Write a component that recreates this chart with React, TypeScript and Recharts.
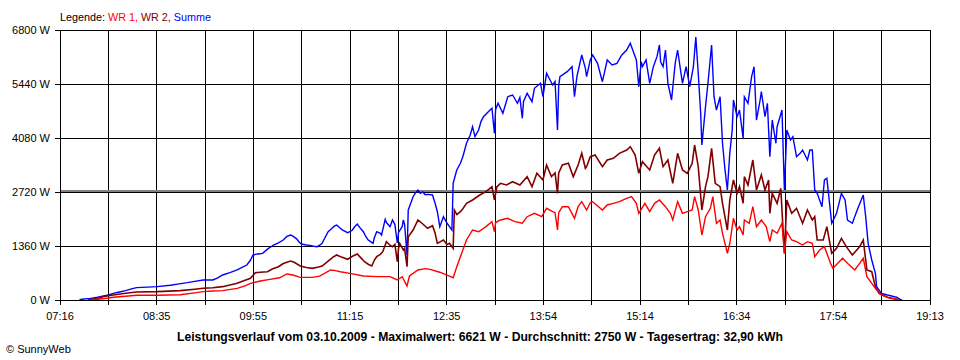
import React from "react";
import {
  LineChart,
  Line,
  XAxis,
  YAxis,
  CartesianGrid,
  ReferenceLine,
} from "recharts";

// Time in minutes since midnight, power in W
const sumPoints: [number, number][] = [
  [452, 0], [454, 18], [461, 40], [467, 68], [472, 100], [476, 126], [480, 168], [485, 200],
  [490, 235], [495, 280], [499, 311], [508, 325], [516, 336], [527, 370], [533, 400], [541, 437],
  [547, 470], [554, 504], [562, 504], [566, 560], [570, 630], [576, 690], [582, 756], [586, 820],
  [590, 881], [593, 1007], [595, 1133], [599, 1160], [603, 1175], [607, 1280], [612, 1385], [616, 1440],
  [620, 1511], [623, 1600], [626, 1637], [628, 1610], [631, 1540], [633, 1460], [635, 1410], [639, 1385],
  [642, 1377], [645, 1355], [648, 1343], [650, 1380], [652, 1427], [654, 1550], [657, 1720], [660, 1800],
  [662, 1860], [664, 1889], [667, 1805], [669, 1760], [673, 1695], [675, 1720], [677, 1763], [679, 1850],
  [681, 1914], [683, 1830], [686, 1720], [688, 1600], [690, 1511], [692, 1470], [694, 1427], [695, 1560],
  [697, 1720], [700, 1680], [701, 1637], [704, 2032], [705, 1950], [708, 1847], [710, 2015], [712, 1900],
  [714, 1435], [715, 1700], [718, 1847], [719, 2015], [720, 1900], [722, 1133], [723, 2267], [724, 2350],
  [727, 2602], [729, 2700], [731, 2770], [733, 2687], [735, 2720], [737, 2650], [739, 2660], [743, 2645],
  [745, 2450], [747, 2224], [749, 1847], [752, 2098], [755, 1932], [757, 1850], [759, 1763], [760, 2939],
  [763, 3274], [766, 3443], [768, 3609], [771, 3946], [774, 4150], [776, 4365], [778, 4113], [781, 4281],
  [783, 4500], [785, 4617], [789, 4743], [792, 4828], [794, 4198], [795, 4800], [797, 4954], [801, 4702],
  [805, 5120], [809, 5163], [813, 4954], [815, 5100], [817, 4576], [818, 5000], [821, 5206], [825, 4995],
  [827, 5332], [832, 5458], [834, 5120], [837, 5710], [842, 5415], [844, 5500], [846, 4281], [847, 5400],
  [848, 5624], [854, 5750], [858, 5876], [860, 5120], [862, 5624], [866, 6170], [869, 5835], [870, 5624],
  [873, 6044], [875, 6170], [879, 5961], [883, 5498], [887, 6044], [891, 5918], [895, 5961], [899, 6170],
  [903, 6296], [906, 6465], [908, 6296], [911, 6044], [913, 5372], [915, 6000], [916, 5876], [919, 6044],
  [922, 5458], [925, 5876], [928, 6128], [930, 6422], [931, 6000], [933, 5876], [935, 6296], [937, 5458],
  [940, 5037], [943, 5961], [945, 6296], [949, 5458], [952, 5876], [955, 5372], [958, 5876], [960, 6621],
  [962, 5710], [964, 4702], [965, 3904], [968, 4869], [970, 5458], [973, 6422], [975, 5120], [977, 4785],
  [980, 5120], [982, 3946], [984, 3300], [986, 2770], [988, 3694], [990, 4281], [991, 5037], [994, 4617],
  [996, 4785], [999, 4072], [1000, 5120], [1003, 4954], [1006, 5624], [1008, 5876], [1010, 4533], [1013, 5037],
  [1014, 5246], [1017, 4617], [1019, 4954], [1021, 3609], [1023, 4533], [1026, 3946], [1027, 4365], [1031, 4785],
  [1033, 2770], [1035, 4281], [1038, 4030], [1040, 4113], [1043, 3609], [1046, 3694], [1048, 3778], [1052, 3526],
  [1054, 3778], [1056, 3778], [1058, 2770], [1060, 2687], [1064, 2350], [1066, 3022], [1068, 3065], [1072, 1932],
  [1076, 2183], [1080, 2687], [1083, 2519], [1085, 2015], [1089, 1932], [1093, 2267], [1098, 2645], [1100, 2098],
  [1102, 1427], [1105, 1007], [1108, 672], [1109, 336], [1113, 168], [1118, 126], [1126, 68], [1128, 18],
  [1130, 0],
];

const wr2Points: [number, number][] = [
  [459, 0], [467, 40], [472, 90], [476, 110], [480, 126], [490, 170], [499, 201], [516, 210],
  [535, 235], [547, 270], [554, 294], [562, 310], [570, 336], [576, 380], [582, 420], [588, 490],
  [593, 546], [597, 688], [601, 700], [607, 713], [611, 780], [616, 839], [620, 920], [626, 982],
  [629, 950], [634, 856], [639, 820], [644, 798], [649, 830], [652, 856], [657, 980], [661, 1080],
  [664, 1133], [668, 1080], [673, 1025], [677, 1100], [681, 1159], [684, 1060], [687, 965], [690, 900],
  [693, 856], [695, 1000], [697, 1091], [700, 1150], [702, 1217], [705, 1469], [708, 1380], [710, 1343],
  [712, 1400], [714, 965], [715, 1300], [716, 1427], [719, 1259], [720, 1300], [722, 839], [723, 1595],
  [727, 1763], [731, 2015], [735, 1914], [739, 1805], [743, 1870], [745, 1700], [747, 1427], [752, 1511],
  [755, 1400], [757, 1427], [760, 1302], [761, 2267], [763, 2150], [766, 2224], [768, 2300], [771, 2435],
  [776, 2519], [782, 2645], [787, 2728], [792, 2854], [794, 2519], [796, 2850], [799, 2939], [804, 2896],
  [809, 2980], [815, 2896], [821, 3106], [825, 2854], [829, 3191], [834, 3022], [837, 3400], [841, 3106],
  [844, 3200], [846, 2687], [847, 3200], [850, 3400], [855, 3443], [859, 3106], [863, 3400], [866, 3694],
  [869, 3317], [870, 3358], [873, 3609], [877, 3652], [883, 3358], [887, 3526], [892, 3568], [897, 3694],
  [903, 3778], [906, 3861], [910, 3652], [913, 3191], [916, 3483], [922, 3274], [926, 3652], [930, 3820],
  [933, 3358], [937, 3526], [941, 2939], [945, 3694], [949, 3274], [953, 3191], [957, 3443], [959, 3904],
  [962, 3358], [965, 2267], [968, 2854], [970, 3106], [973, 3820], [976, 2939], [980, 2854], [982, 2435],
  [986, 1763], [988, 2519], [991, 3022], [994, 2687], [996, 2854], [999, 2435], [1000, 3106], [1003, 2896],
  [1007, 3526], [1010, 2770], [1014, 3148], [1017, 2770], [1020, 3022], [1021, 2183], [1023, 2687], [1027, 2435],
  [1030, 2812], [1033, 1175], [1035, 2519], [1039, 2183], [1043, 2309], [1048, 1932], [1052, 2267], [1056, 2015],
  [1058, 2098], [1060, 1511], [1065, 1511], [1068, 1847], [1072, 1175], [1076, 1302], [1080, 1553], [1084, 1343],
  [1089, 1133], [1095, 1343], [1098, 1511], [1101, 756], [1105, 713], [1108, 336], [1111, 168], [1118, 68],
  [1126, 18], [1127, 0],
];

const wr1Points: [number, number][] = [
  [462, 0], [469, 25], [476, 50], [480, 68], [490, 95], [499, 118], [516, 118], [535, 134],
  [547, 180], [554, 210], [562, 225], [570, 235], [582, 294], [589, 360], [593, 420], [601, 478],
  [609, 520], [617, 560], [623, 655], [628, 630], [634, 571], [644, 571], [650, 600], [659, 756],
  [663, 740], [667, 713], [675, 672], [686, 605], [697, 588], [708, 588], [714, 504], [718, 588],
  [722, 353], [724, 605], [731, 756], [737, 790], [741, 772], [749, 700], [757, 600], [760, 560],
  [763, 839], [766, 1091], [771, 1511], [776, 1763], [781, 1720], [787, 1847], [792, 1972], [794, 1720],
  [795, 1950], [799, 2015], [805, 2057], [811, 1972], [817, 1932], [821, 2098], [827, 2183], [833, 2098],
  [837, 2309], [842, 2224], [844, 2200], [846, 1763], [847, 2200], [850, 2350], [855, 2350], [860, 2057],
  [863, 2350], [866, 2476], [870, 2267], [873, 2451], [875, 2476], [883, 2267], [887, 2393], [892, 2435],
  [897, 2476], [903, 2561], [907, 2602], [911, 2435], [913, 2183], [918, 2435], [922, 2224], [926, 2435],
  [930, 2519], [935, 2350], [939, 2183], [941, 2015], [945, 2476], [949, 2183], [953, 2224], [957, 2267],
  [959, 2602], [962, 2267], [965, 1637], [968, 2098], [972, 2309], [974, 2602], [977, 1932], [980, 2015],
  [982, 1679], [986, 1175], [988, 1427], [991, 2057], [994, 1763], [996, 1847], [999, 1637], [1000, 2015],
  [1004, 1932], [1007, 2350], [1010, 1847], [1014, 2015], [1018, 1847], [1021, 1469], [1023, 1763], [1027, 1679],
  [1031, 1932], [1033, 1175], [1035, 1720], [1039, 1511], [1043, 1469], [1048, 1385], [1052, 1469], [1056, 1427],
  [1058, 1091], [1062, 1259], [1066, 1343], [1071, 924], [1073, 798], [1077, 924], [1081, 1050], [1085, 924],
  [1091, 756], [1095, 924], [1098, 1050], [1101, 588], [1105, 420], [1109, 252], [1113, 126], [1120, 42],
  [1126, 18], [1127, 0],
];

const xTickLabels = ["07:16", "08:35", "09:55", "11:15", "12:35", "13:54", "15:14", "16:34", "17:54", "19:13"];
const yTicks = [0, 1360, 2720, 4080, 5440, 6800];
const averageW = 2750;

const X_START = 436; // 07:16
const X_END = 1153; // 19:13

const toData = (pts: [number, number][]) => pts.map(([t, v]) => ({ t, v }));
const sumData = toData(sumPoints);
const wr2Data = toData(wr2Points);
const wr1Data = toData(wr1Points);

// 18 grid intervals, labels on every second line
const xGridTicks = Array.from({ length: 19 }, (_, i) => X_START + (i * (X_END - X_START)) / 18);

const FONT = "'Liberation Sans', Arial, sans-serif";

export default function App() {
  return (
    <div style={{ position: "absolute", left: 0, top: 0, width: 960, height: 360, background: "#fff" }}>
      <LineChart
        width={960}
        height={360}
        margin={{ top: 30, right: 30, bottom: 0, left: 0 }}
        style={{ fontFamily: FONT }}
      >
        <CartesianGrid stroke="#000" strokeWidth={1} shapeRendering="crispEdges" />
        <XAxis
          type="number"
          dataKey="t"
          domain={[X_START, X_END]}
          ticks={xGridTicks}
          interval={0}
          height={60}
          tickSize={5}
          tickMargin={7}
          axisLine={{ stroke: "#000", shapeRendering: "crispEdges" }}
          tickLine={{ stroke: "#000", shapeRendering: "crispEdges" }}
          tick={{ fill: "#000", fontSize: 11, fontFamily: FONT }}
          tickFormatter={(_v: number, i: number) => (i % 2 === 0 ? xTickLabels[i / 2] : "")}
          allowDataOverflow
        />
        <YAxis
          type="number"
          domain={[0, 6800]}
          ticks={yTicks}
          interval={0}
          width={60}
          tickSize={5}
          tickMargin={5}
          axisLine={{ stroke: "#000", shapeRendering: "crispEdges" }}
          tickLine={{ stroke: "#000", shapeRendering: "crispEdges" }}
          tick={{ fill: "#000", fontSize: 11, fontFamily: FONT }}
          tickFormatter={(v: number) => `${v} W`}
          allowDataOverflow
        />
        <ReferenceLine y={averageW} stroke="#808080" strokeWidth={2} shapeRendering="crispEdges" />
        <Line
          data={sumData}
          dataKey="v"
          type="linear"
          stroke="#0000ff"
          strokeWidth={1.4}
          dot={false}
          activeDot={false}
          isAnimationActive={false}
        />
        <Line
          data={wr2Data}
          dataKey="v"
          type="linear"
          stroke="#800000"
          strokeWidth={1.6}
          dot={false}
          activeDot={false}
          isAnimationActive={false}
        />
        <Line
          data={wr1Data}
          dataKey="v"
          type="linear"
          stroke="#ff0000"
          strokeWidth={1.4}
          dot={false}
          activeDot={false}
          isAnimationActive={false}
        />
      </LineChart>
      <svg
        width={960}
        height={360}
        style={{ position: "absolute", left: 0, top: 0, pointerEvents: "none" }}
        fontFamily={FONT}
      >
        <text x={60} y={21} fontSize={11.5} textLength={151} lengthAdjust="spacingAndGlyphs">
          <tspan fill="#000">Legende: </tspan>
          <tspan fill="#ff0000">WR 1, </tspan>
          <tspan fill="#800000">WR 2, </tspan>
          <tspan fill="#0000ff">Summe</tspan>
        </text>
        <text
          x={480}
          y={341}
          fontSize={12.5}
          fontWeight="bold"
          textAnchor="middle"
          fill="#000"
          textLength={606}
          lengthAdjust="spacingAndGlyphs"
        >
          Leistungsverlauf vom 03.10.2009 - Maximalwert: 6621 W - Durchschnitt: 2750 W - Tagesertrag: 32,90 kWh
        </text>
        <text x={6} y={353} fontSize={11} fill="#000">
          © SunnyWeb
        </text>
      </svg>
    </div>
  );
}
